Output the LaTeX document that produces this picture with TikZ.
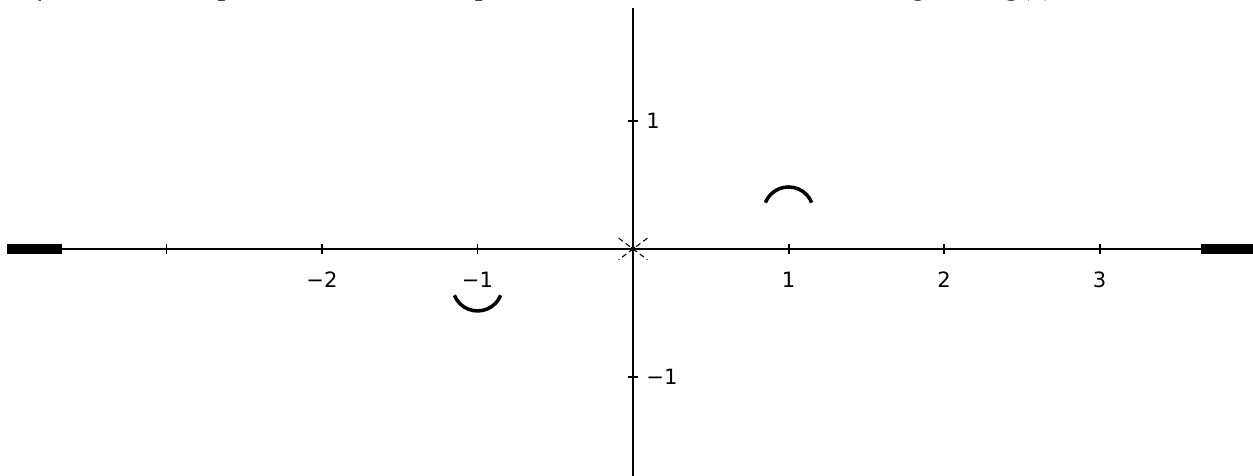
\documentclass[tikz,border=0pt]{standalone}
\usepackage{fontspec}
\setmainfont{Liberation Serif}
\newfontfamily\labelfont{DejaVu Sans}
\begin{document}
\begin{tikzpicture}[x=3.11cm,y=2.56cm,
  axis/.style={line width=1.1pt},
  ticklabel/.style={font=\labelfont\fontsize{12}{14}\selectfont,inner sep=0pt},
  thickend/.style={line width=5.2pt},
  signarc/.style={line width=2pt}]
  \useasboundingbox (-4.071,-1.773) rectangle (3.987,1.945);
  \clip (-4.071,-1.773) rectangle (3.987,1.945);
  % line of text cut off at the top
  \node[anchor=base west,inner sep=0pt,font=\itshape\fontsize{18}{20}\selectfont] (topline) at (-4.071,1.99)
    {de forma en los apartados anteriores puedes resaltar sobre la recta el signo de g(x),};

  \coordinate (O) at (0,0);
  \coordinate (xl) at (-4.026,0);
  \coordinate (xr) at (3.987,0);
  \coordinate (yb) at (0,-1.773);
  \coordinate (yt) at (0,1.883);
  \draw[axis] (xl) -- (xr);
  \draw[axis] (yb) -- (yt);

  \foreach \x in {-3,-2,-1,1,2,3}
    \draw[axis] (\x,0) +(0,-0.1cm) -- +(0,0.1cm);
  \foreach \x/\t in {-2/−2,-1/−1,1/1,2/2,3/3}
    \node[ticklabel] (xlab\x) at (\x,-0.24) {\t};
  \foreach \y/\t in {1/1,-1/−1}{
    \draw[axis] (0,\y) +(-0.1cm,0) -- +(0.1cm,0);
    \node[ticklabel,anchor=west] (ylab\y) at ([xshift=0.26cm]0,\y) {\t};
  }

  % origin mark
  \draw[line width=0.6pt,densely dashed] (O) +(37:0.36cm) -- +(217:0.36cm);
  \draw[line width=0.6pt,densely dashed] (O) +(143:0.36cm) -- +(-37:0.36cm);
  \fill (O) circle (1.5pt);

  % thick ends of the axis
  \draw[thickend] (xl) -- (-3.67,0);
  \draw[thickend] (3.65,0) -- (xr);

  % sign arcs
  \draw[signarc] ([shift={(22:0.5cm)}]1,0.289) arc[start angle=22,end angle=158,radius=0.5cm];
  \draw[signarc] ([shift={(-22:0.5cm)}]-1,-0.289) arc[start angle=-22,end angle=-158,radius=0.5cm];
\end{tikzpicture}
\end{document}
